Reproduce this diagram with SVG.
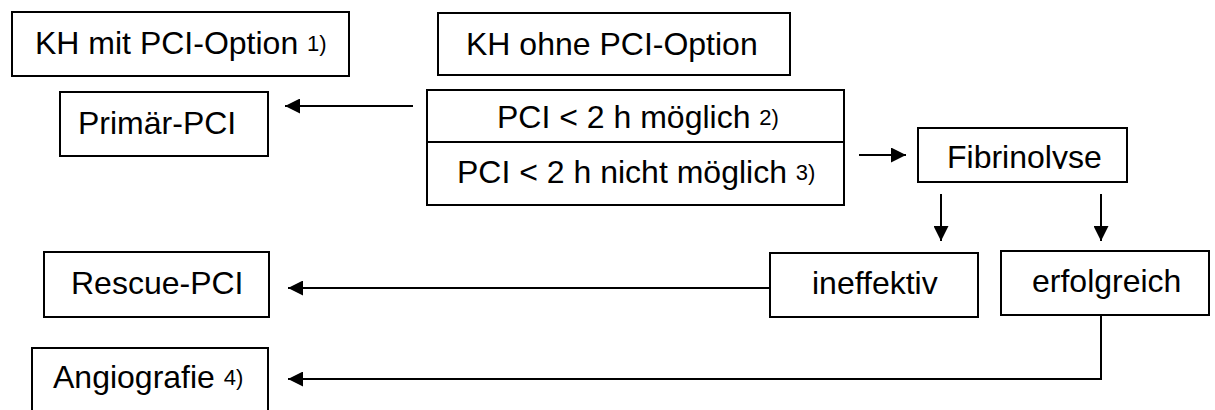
<svg xmlns="http://www.w3.org/2000/svg" width="1215" height="410" viewBox="0 0 1215 410">
<style>
.box{fill:#fff;stroke:#000;stroke-width:2}
.t{font-family:"Liberation Sans",Arial,sans-serif;font-size:32px;fill:#000}
.s{font-size:22px}
.c{fill:none;stroke:#000;stroke-width:2}
</style>
<defs>
<marker id="ah" viewBox="0 0 15 15" refX="15" refY="7.5" markerWidth="15" markerHeight="15" markerUnits="userSpaceOnUse" orient="auto">
<path d="M0,0 L15,7.5 L0,15 z" fill="#000"/>
</marker>
<clipPath id="fibclip"><rect x="918" y="128" width="209" height="41"/></clipPath>
</defs>
<rect width="1215" height="410" fill="#fff"/>
<g id="kh-mit">
<rect class="box" x="12" y="12" width="337" height="64"/>
<text class="t" x="35" y="54">KH mit PCI-Option <tspan class="s" dy="-3">1)</tspan></text>
</g>
<g id="kh-ohne">
<rect class="box" x="438" y="13" width="352" height="62"/>
<text class="t" x="466" y="55">KH ohne PCI-Option</text>
</g>
<g id="pci-box">
<rect class="box" x="427" y="90" width="417" height="115"/>
<line class="c" x1="427" y1="142" x2="844" y2="142"/>
<text class="t" x="497" y="128">PCI &lt; 2 h möglich <tspan class="s" dy="-3">2)</tspan></text>
<text class="t" x="457" y="183">PCI &lt; 2 h nicht möglich <tspan class="s" dy="-3">3)</tspan></text>
</g>
<g id="primaer">
<rect class="box" x="60" y="92" width="208" height="64"/>
<text class="t" x="78" y="134">Primär-PCI</text>
</g>
<g id="fibrinolyse">
<rect class="box" x="918" y="128" width="209" height="54"/>
<text class="t" x="947" y="168" clip-path="url(#fibclip)">Fibrinolyse</text>
</g>
<g id="ineffektiv">
<rect class="box" x="770" y="253" width="208" height="64"/>
<text class="t" x="812" y="294">ineffektiv</text>
</g>
<g id="erfolgreich">
<rect class="box" x="1001" y="251" width="208" height="64"/>
<text class="t" x="1032" y="292">erfolgreich</text>
</g>
<g id="rescue">
<rect class="box" x="44" y="252" width="225" height="65"/>
<text class="t" x="71" y="294">Rescue-PCI</text>
</g>
<g id="angiografie">
<rect class="box" x="32" y="348" width="236" height="72"/>
<text class="t" x="53" y="388">Angiografie <tspan class="s" dy="-3">4)</tspan></text>
</g>
<g id="connectors">
<line class="c" x1="413" y1="106" x2="285" y2="106" marker-end="url(#ah)"/>
<line class="c" x1="859" y1="155" x2="906" y2="155" marker-end="url(#ah)"/>
<line class="c" x1="941" y1="194" x2="941" y2="241" marker-end="url(#ah)"/>
<line class="c" x1="1101" y1="194" x2="1101" y2="241" marker-end="url(#ah)"/>
<line class="c" x1="770" y1="288" x2="288" y2="288" marker-end="url(#ah)"/>
<polyline class="c" points="1101,315 1101,379 288,379" marker-end="url(#ah)"/>
</g>
</svg>
